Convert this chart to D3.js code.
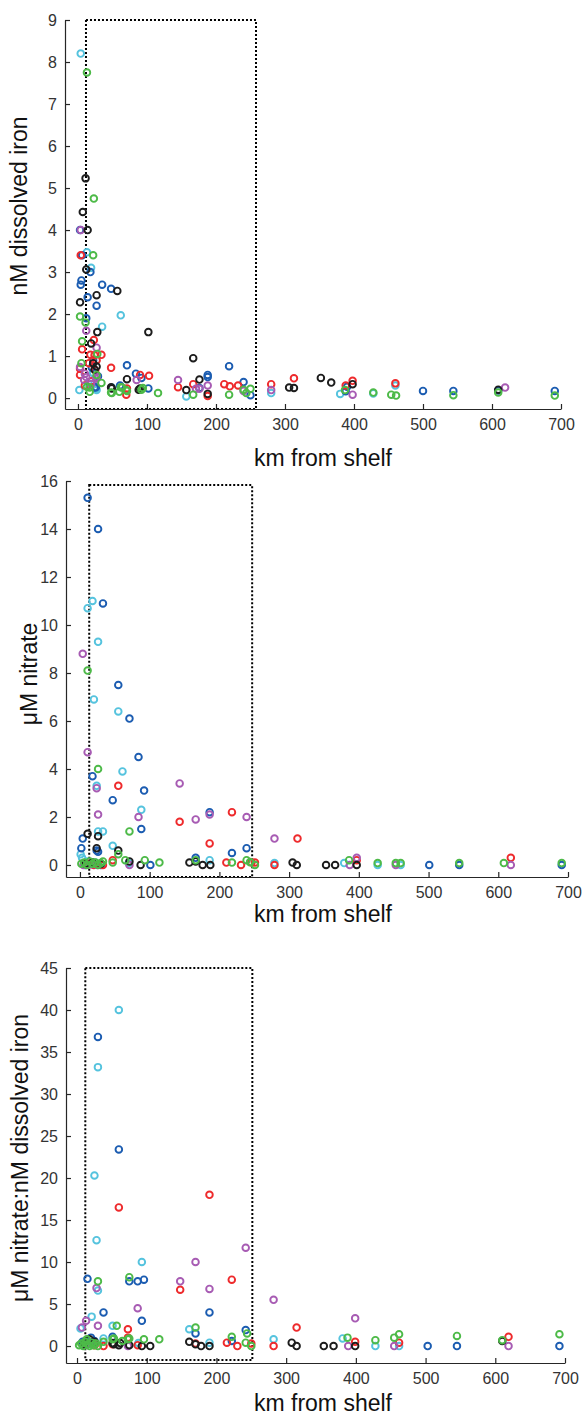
<!DOCTYPE html>
<html>
<head>
<meta charset="utf-8">
<title></title>
<script src="https://d3js.org/d3.v7.min.js"></script>
<style>
  body { margin: 0; background: white; }
  text { font-family: "Liberation Sans", Arial, sans-serif; fill: #262626; }
  .axis path, .axis line { stroke: #262626; stroke-width: 1.2px; }
  .axis text { font-size: 16px; fill: #333; }
  .title { font-size: 23px; fill: #111; }
  .box { fill: none; stroke: black; stroke-width: 2px; stroke-dasharray: 2 2; }
  .dot { fill: none; stroke-width: 1.9px; }
</style>
</head>
<body>
<svg id="fig" width="585" height="1418"></svg>
<script>
// ---- data: [km from shelf, value] per cruise colour ----
var xTicks = [0, 100, 200, 300, 400, 500, 600, 700]
var ironTicks = [0, 1, 2, 3, 4, 5, 6, 7, 8, 9]
var nitrateTicks = [0, 2, 4, 6, 8, 10, 12, 14, 16]
var ratioTicks = [0, 5, 10, 15, 20, 25, 30, 35, 40, 45]

// nM dissolved iron
var iron_cyan = [[4,8.2],[13,3.47],[19,3.1],[35,1.7],[62,1.97],[2,0.19],[27,0.19],[49,0.25],[26,0.22],[15,0.35],[22,0.6],
  [157,0.04],[280,0.12],[380,0.1],[428,0.11],[460,0.3]]
var iron_blue = [[3,4.0],[6,3.4],[18,3.0],[5,2.8],[4,2.7],[35,2.7],[48,2.6],[14,2.4],[27,2.2],[12,1.9],[20,0.73],[22,0.9],
  [71,0.78],[219,0.76],[84,0.58],[188,0.55],[188,0.5],[240,0.38],[29,0.52],[92,0.48],[61,0.3],[102,0.23],[176,0.24],
  [24,0.25],[26,0.26],[250,0.07],[390,0.27],[388,0.16],[500,0.17],[544,0.17],[609,0.18],[691,0.17]]
var iron_red = [[4,3.4],[23,1.38],[6,1.16],[18,1.03],[34,1.03],[24,1.02],[27,0.9],[16,0.83],[3,0.7],[25,0.66],[48,0.72],
  [3,0.55],[90,0.55],[103,0.53],[19,0.4],[167,0.33],[212,0.33],[220,0.28],[232,0.3],[145,0.26],[71,0.23],[70,0.08],
  [188,0.05],[10,0.3],[280,0.33],[313,0.47],[388,0.3],[398,0.41],[460,0.35]]
var iron_purple = [[4,4.0],[12,1.6],[27,1.2],[3,0.74],[10,0.58],[12,0.5],[27,0.5],[26,0.46],[9,0.43],[85,0.43],[145,0.43],
  [188,0.3],[171,0.22],[176,0.22],[19,0.33],[240,0.17],[280,0.19],[398,0.08],[619,0.25]]
var iron_black = [[11,5.23],[7,4.43],[14,4.0],[12,3.06],[57,2.55],[3,2.28],[27,2.45],[28,1.57],[102,1.57],[19,1.3],
  [167,0.95],[22,0.83],[27,0.75],[24,0.68],[71,0.45],[176,0.44],[48,0.26],[90,0.23],[88,0.2],[49,0.23],[157,0.19],
  [188,0.1],[306,0.25],[313,0.24],[352,0.48],[367,0.37],[398,0.33],[609,0.2]]
var iron_green = [[13,7.75],[23,4.75],[22,3.4],[3,1.94],[11,1.8],[6,1.35],[28,1.05],[5,0.83],[27,0.55],[13,0.27],[17,0.15],
  [17,0.25],[34,0.36],[48,0.13],[49,0.12],[60,0.15],[62,0.26],[64,0.25],[70,0.19],[71,0.17],[92,0.2],[94,0.24],[116,0.12],
  [167,0.08],[219,0.08],[240,0.2],[250,0.22],[244,0.12],[387,0.19],[428,0.13],[454,0.08],[461,0.06],[544,0.07],[609,0.13],[691,0.06]]

// uM nitrate
var nitrate_cyan = [[18,11.0],[11,10.7],[26,9.3],[20,6.9],[55,6.4],[61,3.9],[24,3.3],[88,2.3],[26,1.4],[33,1.4],[47,0.8],
  [1,0.45],[3,0.3],[186,0.2],[10,0.15],[22,0.1],[70,0.08],[279,0.08],[379,0.08],[427,0.0],[460,0.0]]
var nitrate_blue = [[11,15.3],[26,14.0],[33,10.9],[55,7.5],[71,6.1],[84,4.5],[18,3.7],[92,3.1],[47,2.7],[186,2.2],[88,1.5],
  [4,1.1],[2,0.7],[24,0.6],[26,0.55],[218,0.5],[239,0.7],[166,0.3],[101,0.0],[15,0.05],[30,0.0],[8,0.0],[501,0.0],[544,0.0],[691,0.0]]
var nitrate_red = [[55,3.3],[143,1.8],[218,2.2],[186,0.9],[47,0.2],[33,0.0],[210,0.1],[231,0.0],[246,0.1],[251,0.1],[20,0.0],
  [12,0.05],[279,0.0],[312,1.1],[397,0.2],[618,0.3]]
var nitrate_purple = [[4,8.8],[11,4.7],[24,3.2],[143,3.4],[186,2.1],[26,2.1],[84,2.0],[239,2.0],[166,1.9],[71,0.0],[5,0.0],
  [15,0.02],[25,0.0],[279,1.1],[387,0.0],[397,0.3],[453,0.0],[618,0.0]]
var nitrate_black = [[11,1.3],[26,1.2],[24,0.7],[55,0.6],[71,0.15],[87,0.0],[157,0.1],[166,0.15],[176,0.0],[187,0.0],[18,0.1],
  [8,0.05],[30,0.05],[305,0.1],[311,0.0],[353,0.0],[366,0.0],[397,0.0]]
var nitrate_green = [[11,8.1],[26,4.0],[71,1.4],[55,0.45],[47,0.1],[65,0.2],[33,0.15],[93,0.2],[114,0.1],[166,0.2],[218,0.1],
  [239,0.2],[244,0.12],[251,0.0],[2,0.05],[6,0.1],[10,0.0],[14,0.15],[18,0.05],[22,0.1],[26,0.0],[30,0.08],[386,0.2],
  [427,0.08],[453,0.08],[460,0.08],[544,0.08],[608,0.08],[691,0.08]]

// uM nitrate : nM dissolved iron
var ratio_cyan = [[60,40],[30,33.2],[25,20.3],[28,12.6],[93,10],[30,6.6],[21,3.5],[5,2.1],[51,2.4],[161,2.0],[38,0.9],
  [88,0.35],[190,0.4],[10,0.5],[18,0.2],[282,0.8],[381,0.9],[428,0.0],[462,0.0]]
var ratio_blue = [[30,36.8],[60,23.4],[15,8.0],[75,7.7],[87,7.7],[96,7.9],[38,4.0],[190,4.0],[93,3.0],[170,1.5],[242,1.9],
  [222,0.6],[51,1.1],[8,0.5],[20,1.0],[25,0.6],[12,0.2],[503,0.0],[545,0.0],[692,0.0]]
var ratio_red = [[60,16.5],[190,18.0],[222,7.9],[148,6.7],[73,2.0],[73,1.0],[215,0.4],[230,0.0],[250,0.3],[170,0.3],[38,0.0],
  [51,0.2],[87,0.1],[25,0.1],[282,0.0],[315,2.2],[399,0.5],[462,0.4],[619,1.1]]
var ratio_purple = [[242,11.7],[170,10],[28,6.9],[148,7.7],[190,6.8],[87,4.5],[13,3.0],[7,2.2],[30,2.4],[73,0.0],[10,0.1],
  [20,0.3],[282,5.5],[389,0.0],[399,3.3],[455,0.0],[619,0.0]]
var ratio_black = [[161,0.5],[170,0.2],[178,0.0],[190,0.0],[93,0.0],[105,0.0],[53,0.2],[60,0.1],[62,0.35],[75,0.1],[51,0.35],
  [18,0.8],[25,0.5],[10,0.2],[308,0.4],[315,0.0],[354,0.0],[368,0.0],[399,0.0],[610,0.6]]
var ratio_green = [[30,7.7],[75,8.2],[57,2.4],[170,2.2],[244,1.5],[222,1.1],[242,0.4],[250,0.0],[118,0.8],[96,0.8],[53,0.9],
  [65,0.6],[75,0.9],[73,0.8],[51,0.8],[38,0.5],[3,0.1],[6,0.3],[9,0.0],[12,0.5],[15,0.2],[18,0.0],[21,0.4],[24,0.1],[27,0.3],
  [30,0.0],[14,0.8],[388,1.0],[428,0.7],[455,1.0],[462,1.4],[545,1.2],[610,0.7],[692,1.4]]

// dotted "near shelf" boxes: [km0, km1, v0, v1]
var ironBox = [11.6, 258, -0.26, 9]
var nitrateBox = [13.3, 247, -0.5, 15.83]
var ratioBox = [11.9, 251.5, -1.67, 45]

var colors = {cyan: "#55c3de", blue: "#1b5cb1", red: "#ee2a2c", purple: "#a75bb3", black: "#1c1c1c", green: "#4dba48"}
var drawOrder = ["cyan", "blue", "red", "purple", "black", "green"]

var panels = [
  {label: "nM dissolved iron", left: 65, right: 561, top: 20, bottom: 409, xDom: [-18.8, 700], yDom: [-0.26, 9],
   yTicks: ironTicks, box: ironBox, labX: 27, labY: 206, titleY: 466,
   series: {cyan: iron_cyan, blue: iron_blue, red: iron_red, purple: iron_purple, black: iron_black, green: iron_green}},
  {label: "\u03bcM nitrate", left: 66, right: 568, top: 481, bottom: 877, xDom: [-20, 700], yDom: [-0.5, 16],
   yTicks: nitrateTicks, box: nitrateBox, labX: 37, labY: 674, titleY: 922,
   series: {cyan: nitrate_cyan, blue: nitrate_blue, red: nitrate_red, purple: nitrate_purple, black: nitrate_black, green: nitrate_green}},
  {label: "\u03bcM nitrate:nM dissolved iron", left: 66, right: 565, top: 968, bottom: 1363, xDom: [-15.8, 700], yDom: [-2.02, 45],
   yTicks: ratioTicks, box: ratioBox, labX: 28, labY: 1158, titleY: 1411,
   series: {cyan: ratio_cyan, blue: ratio_blue, red: ratio_red, purple: ratio_purple, black: ratio_black, green: ratio_green}}
]

var svg = d3.select("#fig")

panels.forEach(function(p) {
  var x = d3.scaleLinear().domain(p.xDom).range([p.left, p.right])
  var y = d3.scaleLinear().domain(p.yDom).range([p.bottom, p.top])
  var g = svg.append("g")

  g.append("rect").attr("class", "box")
    .attr("x", x(p.box[0])).attr("y", y(p.box[3]))
    .attr("width", x(p.box[1]) - x(p.box[0]))
    .attr("height", y(p.box[2]) - y(p.box[3]))

  drawOrder.forEach(function(c) {
    g.selectAll(null).data(p.series[c]).enter().append("circle")
      .attr("class", "dot")
      .attr("cx", d => x(d[0]))
      .attr("cy", d => y(d[1]))
      .attr("r", 3.3)
      .style("stroke", colors[c])
  })

  g.append("g").attr("class", "axis")
    .attr("transform", "translate(0," + p.bottom + ")")
    .call(d3.axisBottom(x).tickValues(xTicks).tickSize(-5).tickSizeOuter(0).tickPadding(10))
  g.append("g").attr("class", "axis")
    .attr("transform", "translate(" + p.left + ",0)")
    .call(d3.axisLeft(y).tickValues(p.yTicks).tickSize(-5).tickSizeOuter(0).tickPadding(8))
  g.selectAll(".axis text").style("font-family", null)

  g.append("text").attr("class", "title")
    .attr("x", 323).attr("y", p.titleY)
    .attr("text-anchor", "middle")
    .text("km from shelf")
  g.append("text").attr("class", "title")
    .attr("transform", "translate(" + p.labX + "," + p.labY + ") rotate(-90)")
    .attr("text-anchor", "middle")
    .text(p.label)
})
</script>
</body>
</html>
